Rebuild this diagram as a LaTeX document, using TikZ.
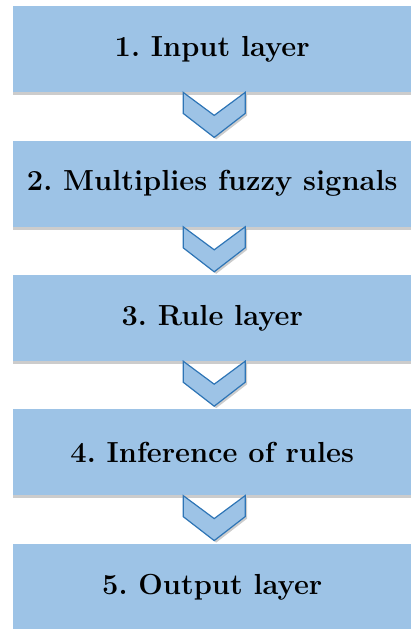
\documentclass[tikz,border=0pt]{standalone}
\usepackage{tikz}
\usetikzlibrary{positioning,calc,shadows}
\definecolor{layerblue}{RGB}{157,195,230}
\definecolor{edgeblue}{RGB}{46,117,182}
\frenchspacing

\begin{document}
\begin{tikzpicture}[x=1pt,y=1pt,node distance=48pt]
\useasboundingbox (0,0) rectangle (411,-629);
\tikzset{layer/.style={fill=layerblue,minimum width=398pt,minimum height=86pt,inner sep=0pt,font=\fontsize{29}{34}\selectfont\bfseries,drop shadow={shadow xshift=0pt,shadow yshift=-3pt,opacity=.4}}}
\node[layer,anchor=north west] (l1) at (13,-6) {1. Input layer};
\node[layer,below=of l1] (l2) {2. Multiplies fuzzy signals};
\node[layer,below=of l2] (l3) {3. Rule layer};
\node[layer,below=of l3] (l4) {4. Inference of rules};
\node[layer,below=of l4] (l5) {5. Output layer};
% chevrons between the layers
\foreach \a in {l1,l2,l3,l4}{
\draw[edgeblue,fill=layerblue,line width=1.2pt,line join=miter,drop shadow={shadow xshift=2pt,shadow yshift=-2pt,opacity=.4}] ($(\a.south)+(-29,0)$) -- ++(0,-21) -- ++(31,-24) -- ++(31,24) -- ++(0,21) -- ++(-31,-23) -- cycle;
}
\end{tikzpicture}
\end{document}
